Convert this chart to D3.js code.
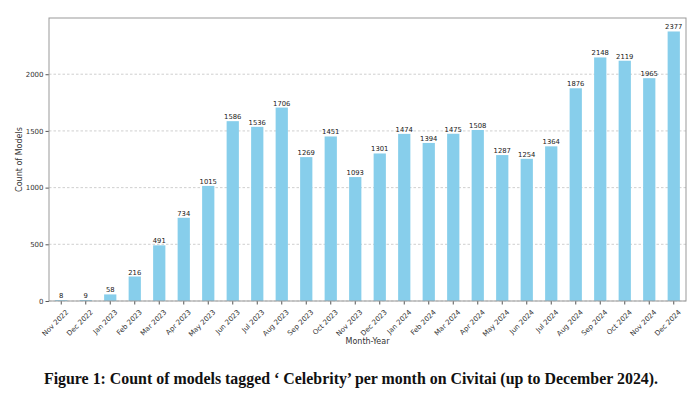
<!DOCTYPE html>
<html>
<head>
	<meta charset="utf-8">
	<script src="https://cdn.jsdelivr.net/npm/d3@7"></script>
</head>
<style type="text/css">
	body {margin:0; background:#fff;}
	.tick text {font-family:"DejaVu Sans", sans-serif; fill:#333;}
</style>
<body>
</body>
<script type="text/javascript">
	var months = ["Nov 2022","Dec 2022","Jan 2023","Feb 2023","Mar 2023","Apr 2023","May 2023","Jun 2023","Jul 2023","Aug 2023","Sep 2023","Oct 2023","Nov 2023","Dec 2023","Jan 2024","Feb 2024","Mar 2024","Apr 2024","May 2024","Jun 2024","Jul 2024","Aug 2024","Sep 2024","Oct 2024","Nov 2024","Dec 2024"];
	var counts = [8,9,58,216,491,734,1015,1586,1536,1706,1269,1451,1093,1301,1474,1394,1475,1508,1287,1254,1364,1876,2148,2119,1965,2377];
	var yTicks = [0,500,1000,1500,2000];

	var width = 700, height = 395;
	var margin = {left:49, right:14, top:18, bottom:94};
	var w = width - margin.left - margin.right;
	var h = height - margin.top - margin.bottom;

	var svg = d3.select("body").append("svg").attr("width", width).attr("height", height);
	var g = svg.append("g").attr("transform", "translate(" + margin.left + "," + margin.top + ")");

	var x = d3.scaleBand().domain(months).range([0, w]).paddingInner(0.5).paddingOuter(0.25);
	var y = d3.scaleLinear().domain([0, d3.max(counts) * 1.05]).range([h, 0]);

	// grid
	g.selectAll("line.grid").data(yTicks).enter().append("line")
		.attr("x1", 0).attr("x2", w)
		.attr("y1", function(d){return y(d)}).attr("y2", function(d){return y(d)})
		.attr("stroke", "#bbb").attr("stroke-width", 0.7).attr("stroke-dasharray", "2.5,2");

	g.selectAll("rect").data(counts).enter().append("rect")
		.attr("x", function(d, i){return x(months[i])})
		.attr("y", function(d){return y(d)})
		.attr("width", x.bandwidth())
		.attr("height", function(d){return h - y(d)})
		.attr("fill", "#87ceeb");

	g.selectAll("text.val").data(counts).enter().append("text")
		.attr("x", function(d, i){return x(months[i]) + x.bandwidth() / 2})
		.attr("y", function(d){return y(d) - 2})
		.attr("text-anchor", "middle")
		.style("font-family", "DejaVu Sans, sans-serif").style("font-size", "6.8px").attr("fill", "#222")
		.text(function(d){return d});

	var xa = g.append("g").attr("transform", "translate(0," + h + ")")
		.call(d3.axisBottom(x).tickSize(3.5).tickSizeOuter(0));
	xa.selectAll("text").style("font-size", "7px")
		.attr("text-anchor", "end").attr("dx", "0").attr("dy", "0")
		.attr("transform", "translate(3,7) rotate(-45)");
	xa.select(".domain").remove();
	xa.selectAll("line").attr("stroke", "#555");

	var ya = g.append("g").call(d3.axisLeft(y).tickValues(yTicks).tickFormat(d3.format("d")).tickSize(3.5).tickSizeOuter(0));
	ya.selectAll("text").style("font-size", "7px").attr("x", -5.5);
	ya.select(".domain").remove();
	ya.selectAll("line").attr("stroke", "#555");

	g.append("rect").attr("width", w).attr("height", h)
		.attr("fill", "none").attr("stroke", "#999").attr("stroke-width", 1);

	g.append("text").attr("x", w / 2).attr("y", h + 43).attr("text-anchor", "middle")
		.style("font-family", "DejaVu Sans, sans-serif").style("font-size", "8px").attr("fill", "#333")
		.text("Month-Year");
	g.append("text").attr("transform", "translate(-27," + (h / 2) + ") rotate(-90)").attr("text-anchor", "middle")
		.style("font-family", "DejaVu Sans, sans-serif").style("font-size", "8px").attr("fill", "#333")
		.text("Count of Models");

	svg.append("text").attr("x", 351).attr("y", 384).attr("text-anchor", "middle")
		.style("font-family", "Liberation Serif, serif").style("font-weight", "bold").style("font-size", "15.9px").attr("fill", "#111")
		.text("Figure 1: Count of models tagged \u2018 Celebrity\u2019 per month on Civitai (up to December 2024).");
</script>
</html>
